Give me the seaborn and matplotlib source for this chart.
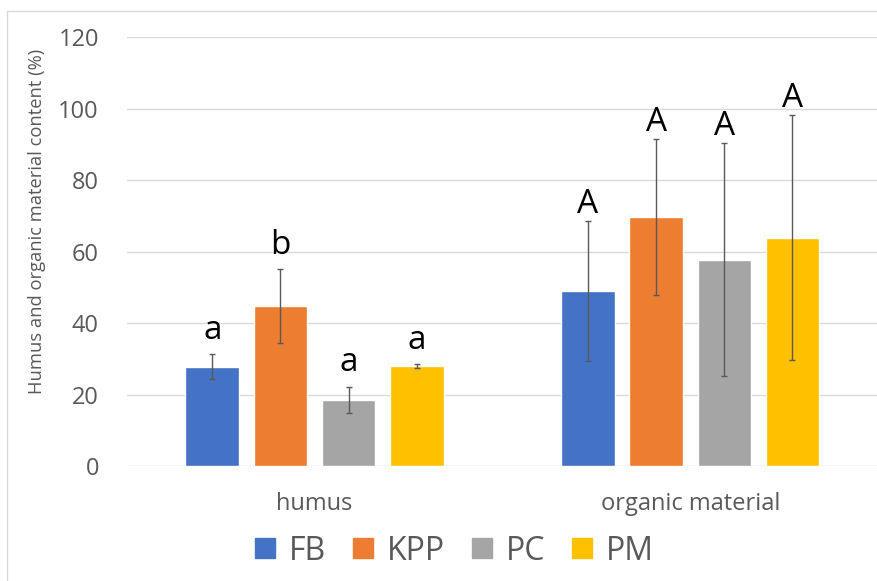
import pandas as pd
import matplotlib.pyplot as plt
import seaborn as sns
import numpy as np
from matplotlib.lines import Line2D
from matplotlib.patches import Rectangle

# values
groups = ['humus', 'organic material']
treatments = ['FB', 'KPP', 'PC', 'PM']
humus_mean = [27.7, 44.7, 18.5, 28.0]
humus_err = [3.5, 10.3, 3.7, 0.5]
organic_mean = [48.9, 69.6, 57.7, 63.9]
organic_err = [19.5, 21.9, 32.6, 34.2]
humus_letters = ['a', 'b', 'a', 'a']
organic_letters = ['A', 'A', 'A', 'A']
colors = ['#4472C4', '#ED7D31', '#A5A5A5', '#FFC000']

df = pd.DataFrame({
    'group': [groups[0]] * 4 + [groups[1]] * 4,
    'treatment': treatments * 2,
    'value': humus_mean + organic_mean,
    'err': humus_err + organic_err,
    'letter': humus_letters + organic_letters,
})

sns.set_style('white')
plt.rcParams['font.family'] = ['Open Sans', 'DejaVu Sans']

fig = plt.figure(figsize=(8.77, 5.81), dpi=100)
ax = fig.add_axes([126.7 / 877, 115 / 581, 750.3 / 877, 429 / 581])

sns.barplot(data=df, x='group', y='value', hue='treatment', order=groups,
            hue_order=treatments, palette=colors, width=0.726, gap=0.215,
            errorbar=None, legend=False, ax=ax, saturation=1, zorder=2)

# error bars and significance letters
for p in ax.patches:
    cx = p.get_x() + p.get_width() / 2
    h = p.get_height()
    row = df.iloc[(df['value'] - h).abs().argmin()]
    ax.errorbar(cx, h, yerr=row['err'], color='#595959', lw=1.0,
                capsize=2.5, capthick=1.0, zorder=3)
    off = 11 if row['letter'].islower() else 6
    ax.annotate(row['letter'], (cx, h + row['err']), xytext=(0, off),
                textcoords='offset points', ha='center', va='baseline',
                fontsize=24, color='black')

ax.set_ylim(0, 120)
ax.set_xlim(-0.5, 1 + (877 - 690.2) / 375.7)
ax.set_yticks(np.arange(0, 121, 20))
ax.yaxis.grid(True, color='#D9D9D9', lw=1.0, zorder=0)
ax.set_axisbelow(True)
for s in ax.spines.values():
    s.set_visible(False)
ax.tick_params(axis='both', length=0, labelsize=17, labelcolor='#595959')
ax.tick_params(axis='y', pad=20)
ax.tick_params(axis='x', pad=19)
ax.set_xlabel('')
ax.set_ylabel('')
fig.text(37 / 877, 1 - 221 / 581, 'Humus and organic material content (%)',
         rotation=90, ha='center', va='center', fontsize=13.2, color='#595959')

handles = [Line2D([], [], marker='s', ls='', markersize=15, color=c) for c in colors]
fig.legend(handles, treatments, loc='center', bbox_to_anchor=(454 / 877, 1 - 551 / 581),
           ncol=4, frameon=False, fontsize=23, labelcolor='#595959',
           handlelength=0.7, handletextpad=0.4, columnspacing=0.8)

# chart area border
fig.patches.append(Rectangle((7 / 877, -0.1), 1.2, (570 / 581) + 0.1,
                             transform=fig.transFigure, fill=False,
                             edgecolor='#D9D9D9', lw=1.0))

fig.savefig('out.png', dpi=100)
